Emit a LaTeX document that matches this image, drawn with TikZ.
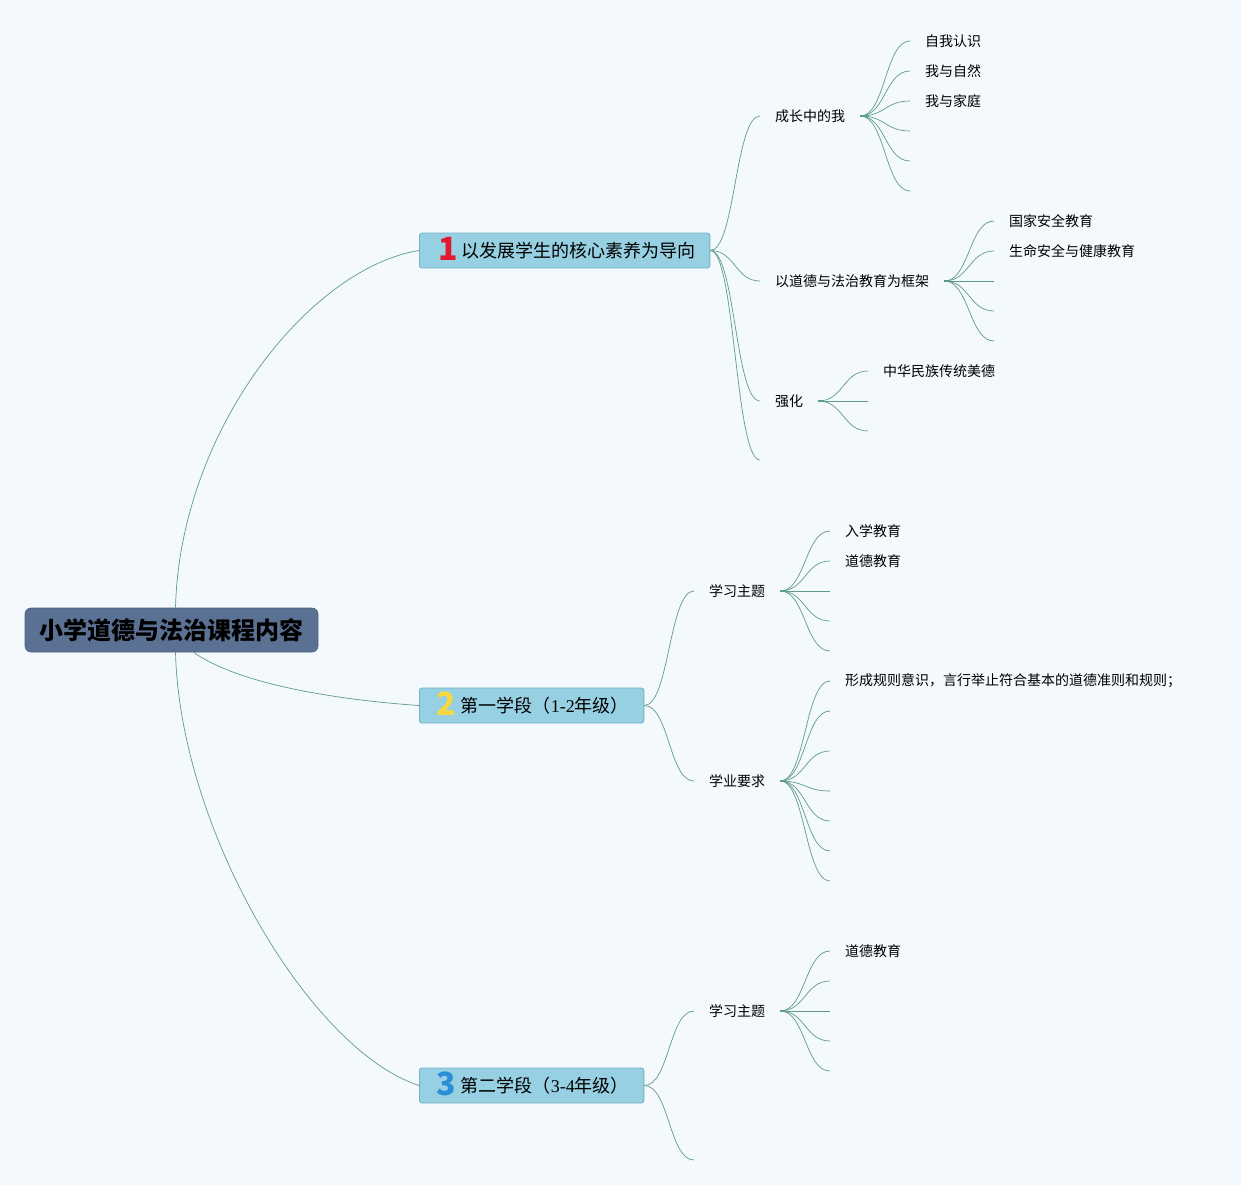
\documentclass[tikz,border=0pt]{standalone}
\usepackage{fontspec}
\setmainfont{Noto Sans CJK SC}
\newfontfamily\latinserif{Liberation Serif}
\usetikzlibrary{calc}
\definecolor{bgcol}{HTML}{F4F9FE}
\definecolor{rootfill}{HTML}{5B7194}
\definecolor{brfill}{HTML}{96D0E2}
\definecolor{brdraw}{HTML}{73B2C4}
\definecolor{linkcol}{HTML}{5E9C8A}
\definecolor{numred}{HTML}{E0192F}
\definecolor{numyellow}{HTML}{F6D842}
\definecolor{numblue}{HTML}{2B8FD8}
\newcommand{\padR}[1]{\hspace*{#1}\null}
\newcommand{\bignum}[2]{\raisebox{-3.5pt}[0pt][0pt]{\color{#1}\fontsize{32}{32}\selectfont\bfseries #2}}
\begin{document}
\begin{tikzpicture}[x=1pt,y=-1pt,
  rootbox/.style={rectangle, rounded corners=6pt, fill=rootfill, draw=rootfill!85!black, line width=0.6pt, minimum width=293pt, minimum height=44pt, font=\fontsize{24}{26}\selectfont\bfseries, text=black, inner sep=0pt},
  brbox/.style={rectangle, rounded corners=2.5pt, fill=brfill, draw=brdraw, line width=0.8pt, minimum height=35pt, font=\fontsize{18}{20}\selectfont, text=black, inner sep=0pt, anchor=west},
  leaf/.style={anchor=west, inner xsep=15pt, inner ysep=2pt, font=\fontsize{14}{16}\selectfont, text=black},
  linkline/.style={draw=linkcol, line width=0.7pt},
  curvy/.style={to path={let \p1=(\tikztostart),\p2=(\tikztotarget) in .. controls ({0.5*\x1+0.5*\x2},\y1) and ({0.5*\x1+0.5*\x2},\y2) .. (\tikztotarget)}},
  hub/.style={draw=linkcol, line width=2pt}
]
\fill[bgcol] (0,0) rectangle (1241,1185);
\useasboundingbox (0,0) rectangle (1241,1185);

% root
\node[rootbox] (root) at (171.5,630) {小学道德与法治课程内容};

% branches
\node[brbox] (b1) at (419,250.5) {\hspace*{19pt}\bignum{numred}{1}\hspace{4pt}以发展学生的核心素养为导向\padR{14pt}};
\node[brbox] (b2) at (419,705.5) {\hspace*{17pt}\bignum{numyellow}{2}\hspace{5pt}第一学段（{\latinserif 1-2}年级）\padR{15pt}};
\node[brbox] (b3) at (419,1085.5) {\hspace*{17pt}\bignum{numblue}{3}\hspace{5pt}第二学段（{\latinserif 3-4}年级）\padR{15pt}};

\draw[linkline] ([xshift=4pt]root.north) .. controls (180,430) and (310,268) .. (b1.west);
\draw[linkline] ([xshift=22pt]root.south) .. controls (240,685) and (340,700) .. (b2.west);
\draw[linkline] ([xshift=4pt]root.south) .. controls (180,830) and (310,1050) .. (b3.west);

% branch 1 children
\node[leaf] (c11) at (760,116) {成长中的我};
\node[leaf] (c12) at (760,281) {以道德与法治教育为框架};
\node[leaf] (c13) at (760,401) {强化};
\coordinate (c14) at (760,460);
\foreach \t in {c11,c12,c13} \draw[linkline] (b1.east) to[curvy] (\t.west);
\draw[linkline] (b1.east) to[curvy] (c14);

% c11 children
\node[leaf] (l111) at (910,41) {自我认识};
\node[leaf] (l112) at (910,71) {我与自然};
\node[leaf] (l113) at (910,101) {我与家庭};
\coordinate (l114) at (910,131);
\coordinate (l115) at (910,161);
\coordinate (l116) at (910,191);
\foreach \t in {l111,l112,l113} \draw[linkline] (c11.east) to[curvy] (\t.west);
\foreach \t in {l114,l115,l116} \draw[linkline] (c11.east) to[curvy] (\t);
\draw[hub] (c11.east) -- ++(6,0);

% c12 children
\node[leaf] (l121) at (994,221) {国家安全教育};
\node[leaf] (l122) at (994,251) {生命安全与健康教育};
\coordinate (l123) at (994,281);
\coordinate (l124) at (994,311);
\coordinate (l125) at (994,341);
\foreach \t in {l121,l122} \draw[linkline] (c12.east) to[curvy] (\t.west);
\foreach \t in {l123,l124,l125} \draw[linkline] (c12.east) to[curvy] (\t);
\draw[hub] (c12.east) -- ++(6,0);

% c13 children
\node[leaf] (l131) at (868,371) {中华民族传统美德};
\coordinate (l132) at (868,401);
\coordinate (l133) at (868,431);
\draw[linkline] (c13.east) to[curvy] (l131.west);
\foreach \t in {l132,l133} \draw[linkline] (c13.east) to[curvy] (\t);
\draw[hub] (c13.east) -- ++(6,0);

% branch 2 children
\node[leaf] (c21) at (694,591) {学习主题};
\node[leaf] (c22) at (694,781) {学业要求};
\draw[linkline] (b2.east) to[curvy] (c21.west);
\draw[linkline] (b2.east) to[curvy] (c22.west);

\node[leaf] (l211) at (830,531) {入学教育};
\node[leaf] (l212) at (830,561) {道德教育};
\coordinate (l213) at (830,591);
\coordinate (l214) at (830,621);
\coordinate (l215) at (830,651);
\foreach \t in {l211,l212} \draw[linkline] (c21.east) to[curvy] (\t.west);
\foreach \t in {l213,l214,l215} \draw[linkline] (c21.east) to[curvy] (\t);
\draw[hub] (c21.east) -- ++(6,0);

\node[leaf] (l221) at (830,681) {形成规则意识，言行举止符合基本的道德准则和规则；};
\coordinate (l222) at (830,711);
\coordinate (l223) at (830,751);
\coordinate (l224) at (830,791);
\coordinate (l225) at (830,821);
\coordinate (l226) at (830,851);
\coordinate (l227) at (830,881);
\draw[linkline] (c22.east) to[curvy] (l221.west);
\foreach \t in {l222,l223,l224,l225,l226,l227} \draw[linkline] (c22.east) to[curvy] (\t);
\draw[hub] (c22.east) -- ++(6,0);

% branch 3 children
\node[leaf] (c31) at (694,1011) {学习主题};
\coordinate (c32) at (694,1160);
\draw[linkline] (b3.east) to[curvy] (c31.west);
\draw[linkline] (b3.east) to[curvy] (c32);

\node[leaf] (l311) at (830,951) {道德教育};
\coordinate (l312) at (830,981);
\coordinate (l313) at (830,1011);
\coordinate (l314) at (830,1041);
\coordinate (l315) at (830,1071);
\draw[linkline] (c31.east) to[curvy] (l311.west);
\foreach \t in {l312,l313,l314,l315} \draw[linkline] (c31.east) to[curvy] (\t);
\draw[hub] (c31.east) -- ++(6,0);
\end{tikzpicture}
\end{document}
